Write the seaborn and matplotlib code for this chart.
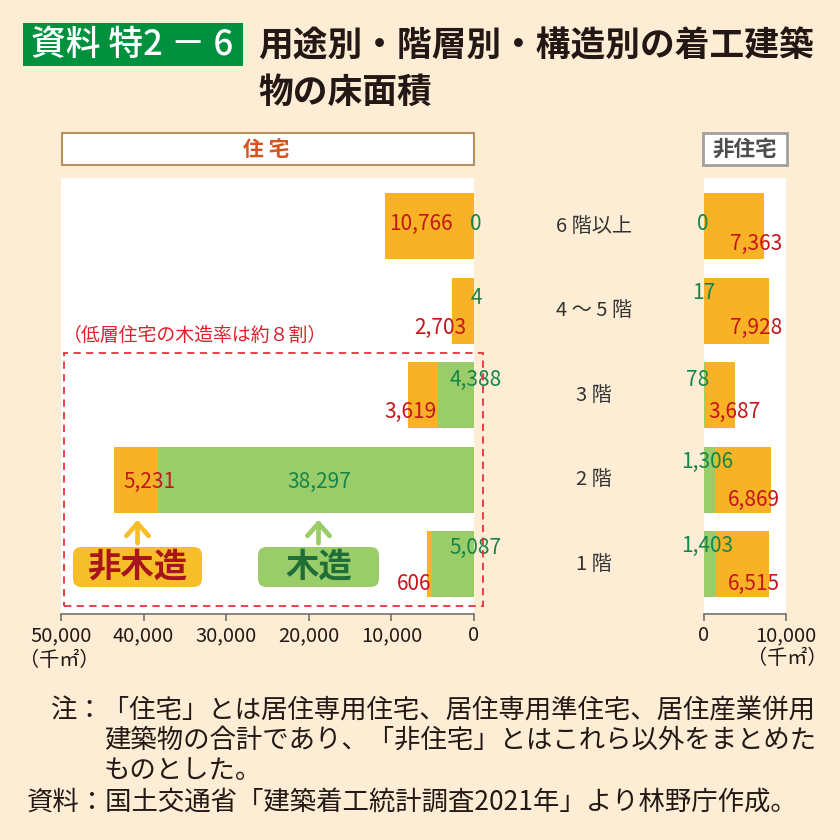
import matplotlib
matplotlib.use("Agg")
import matplotlib.pyplot as plt
import matplotlib.transforms as mtransforms
from matplotlib.patches import Rectangle, FancyBboxPatch, FancyArrowPatch
import seaborn as sns

# --- datos (千㎡) ---
pisos = ["6階以上", "4～5階", "3階", "2階", "1階"]
pisos_texto = ["6 階以上", "4 ～ 5 階", "3 階", "2 階", "1 階"]
jutaku_mokuzo = [0, 4, 4388, 38297, 5087]
jutaku_hi_mokuzo = [10766, 2703, 3619, 5231, 606]
hi_jutaku_mokuzo = [0, 17, 78, 1306, 1403]
hi_jutaku_hi_mokuzo = [7363, 7928, 3687, 6869, 6515]

ticks_izq = [50000, 40000, 30000, 20000, 10000, 0]
ticks_der = [0, 10000]

# --- colores ---
FONDO = "#FDEDD4"
NARANJA = "#F7B226"
VERDE = "#9ACD6A"
ROJO_TXT = "#C4161C"
VERDE_TXT = "#17844A"
TEXTO = "#231815"

sns.set_style("white")
plt.rcParams["font.family"] = ["Noto Sans CJK JP", "DejaVu Sans"]

W = H = 840


def fx(x):
    return x / W


def fy(y):
    return 1 - y / H


fig = plt.figure(figsize=(8.4, 8.4), dpi=100, facecolor=FONDO)

ax_j = fig.add_axes([fx(61), fy(614), (474 - 61) / W, (614 - 178) / H])
ax_h = fig.add_axes([fx(704), fy(614), (786 - 704) / W, (614 - 178) / H])

total_j = [a + b for a, b in zip(jutaku_mokuzo, jutaku_hi_mokuzo)]
total_h = [a + b for a, b in zip(hi_jutaku_mokuzo, hi_jutaku_hi_mokuzo)]

for ax, total, mokuzo in [(ax_j, total_j, jutaku_mokuzo), (ax_h, total_h, hi_jutaku_mokuzo)]:
    sns.barplot(x=total, y=pisos, orient="h", color=NARANJA, saturation=1,
                width=0.78, linewidth=0, ax=ax)
    sns.barplot(x=mokuzo, y=pisos, orient="h", color=VERDE, saturation=1,
                width=0.78, linewidth=0, ax=ax)
    ax.set_facecolor("white")
    ax.set_ylim(4.586, -0.567)
    ax.set_ylabel("")
    ax.set_xlabel("")
    ax.set_yticks([])
    for s in ["left", "top", "right"]:
        ax.spines[s].set_visible(False)
    ax.spines["bottom"].set_color("#666666")
    ax.spines["bottom"].set_linewidth(1.1)
    ax.tick_params(axis="x", direction="out", length=5, width=1.1, color="#666666",
                   labelsize=14.5, labelcolor=TEXTO, pad=3, bottom=True)

ax_j.set_xlim(50000, 0)
ax_j.set_xticks(ticks_izq)
ax_j.set_xticklabels([f"{t:,}" for t in ticks_izq])
ax_h.set_xlim(0, 10000)
ax_h.set_xticks(ticks_der)
ax_h.set_xticklabels([f"{t:,}" for t in ticks_der])


def etiqueta(ax, texto, x, i, dx, dy, color, ha):
    ax.annotate(texto, xy=(x, i), xytext=(dx, dy), textcoords="offset pixels",
                ha=ha, va="center", fontsize=15, color=color, annotation_clip=False)


# --- etiquetas de valores: 住宅 ---
dy_verde_j = [2, 13, 15, 0, 16]
dy_rojo_j = [2, -17, -17, -2, -20]
for i in range(len(pisos)):
    if i == 3:
        etiqueta(ax_j, f"{jutaku_mokuzo[i]:,}", jutaku_mokuzo[i] / 2, i, 3, -2, VERDE_TXT, "center")
        etiqueta(ax_j, f"{jutaku_hi_mokuzo[i]:,}", total_j[i], i, 9, -2, ROJO_TXT, "left")
        continue
    etiqueta(ax_j, f"{jutaku_mokuzo[i]:,}", 0, i, 2, dy_verde_j[i], VERDE_TXT, "center")
    if i == 0:
        etiqueta(ax_j, f"{jutaku_hi_mokuzo[i]:,}", 0, i, -21, dy_rojo_j[i], ROJO_TXT, "right")
    else:
        dx = -8 if i == 1 else -1
        etiqueta(ax_j, f"{jutaku_hi_mokuzo[i]:,}", jutaku_mokuzo[i], i, dx, dy_rojo_j[i], ROJO_TXT, "right")

# --- etiquetas de valores: 非住宅 ---
dx_verde_h = [-1, 0, -6, 3, 3]
dy_verde_h = [2, 18, 15, 18, 18]
dx_rojo_h = [-4, -4, -25, -6, -6]
dy_rojo_h = [-18, -17, -17, -20, -20]
for i in range(len(pisos)):
    etiqueta(ax_h, f"{hi_jutaku_mokuzo[i]:,}", 0, i, dx_verde_h[i], dy_verde_h[i], VERDE_TXT, "center")
    etiqueta(ax_h, f"{hi_jutaku_hi_mokuzo[i]:,}", 10000, i, dx_rojo_h[i], dy_rojo_h[i], ROJO_TXT, "right")

# --- nombres de pisos en el centro ---
trans = mtransforms.blended_transform_factory(fig.transFigure, ax_h.transData)
for i, nombre in enumerate(pisos_texto):
    fig.text(fx(594), i, nombre, transform=trans, ha="center", va="center",
             fontsize=14.5, color="#333333")

# --- unidades ---
fig.text(fx(59), fy(660), "（千㎡）", ha="center", va="center", fontsize=14.5, color=TEXTO)
fig.text(fx(787), fy(658), "（千㎡）", ha="center", va="center", fontsize=14.5, color=TEXTO)

# --- titulo ---
fig.add_artist(Rectangle((fx(23), fy(66)), (243 - 23) / W, (66 - 23) / H,
                         transform=fig.transFigure, facecolor="#00913F", edgecolor="none"))
fig.text(fx(31), fy(45), "資料 特2 － 6", ha="left", va="center", fontsize=25,
         color="white", fontweight="medium")
fig.text(fx(258), fy(46), "用途別・階層別・構造別の着工建築", ha="left", va="center",
         fontsize=25, color=TEXTO, fontweight="bold")
fig.text(fx(258), fy(92), "物の床面積", ha="left", va="center",
         fontsize=25, color=TEXTO, fontweight="bold")

# --- cajas 住宅 / 非住宅 ---
fig.add_artist(Rectangle((fx(62), fy(165)), (474 - 62) / W, 32 / H, transform=fig.transFigure,
                         facecolor="white", edgecolor="#B8915F", linewidth=1.5))
fig.text(fx(266), fy(149), "住 宅", ha="center", va="center", fontsize=15,
         color="#D4531F", fontweight="bold")
fig.add_artist(Rectangle((fx(703), fy(165)), (787 - 703) / W, 32 / H, transform=fig.transFigure,
                         facecolor="white", edgecolor="#A0A0A0", linewidth=2))
fig.text(fx(745), fy(149), "非住宅", ha="center", va="center", fontsize=15.5,
         color="#4D4D4D", fontweight="bold")

# --- recuadro punteado: 低層住宅 ---
fig.add_artist(Rectangle((fx(64), fy(606)), (483 - 64) / W, (606 - 353) / H,
                         transform=fig.transFigure, facecolor="none", edgecolor="#E8303A",
                         linewidth=1.3, linestyle=(0, (4, 3))))
fig.text(fx(63), fy(335), "（低層住宅の木造率は約８割）", ha="left", va="center",
         fontsize=13.6, color="#E0202A")

# --- leyenda con flechas ---
for x0, x1, fondo, texto, color_txt, flecha in [
    (73, 202, "#F6BE28", "非木造", "#A8141B", "#F6BE28"),
    (258, 379, VERDE, "木造", "#1E6E36", VERDE),
]:
    fig.add_artist(FancyBboxPatch((fx(x0), fy(587)), (x1 - x0) / W, 40 / H,
                                  boxstyle="round,pad=0,rounding_size=0.01",
                                  transform=fig.transFigure, facecolor=fondo, edgecolor="none"))
    xc = (x0 + x1) / 2
    fig.text(fx(xc), fy(567), texto, ha="center", va="center", fontsize=24,
             color=color_txt, fontweight="bold")
    fig.add_artist(FancyArrowPatch((fx(xc), fy(546)), (fx(xc), fy(517)),
                                   transform=fig.transFigure,
                                   arrowstyle="->,head_length=0.45,head_width=0.4",
                                   mutation_scale=20, color=flecha, linewidth=3.4))

# --- notas ---
notas = [
    (50, 711, "注：「住宅」とは居住専用住宅、居住専用準住宅、居住産業併用"),
    (104, 740, "建築物の合計であり、「非住宅」とはこれら以外をまとめた"),
    (104, 770, "ものとした。"),
    (27, 802, "資料：国土交通省「建築着工統計調査2021年」より林野庁作成。"),
]
for x, y, t in notas:
    fig.text(fx(x), fy(y), t, ha="left", va="center", fontsize=19, color=TEXTO)

fig.savefig("out.png", dpi=100, facecolor=FONDO)
